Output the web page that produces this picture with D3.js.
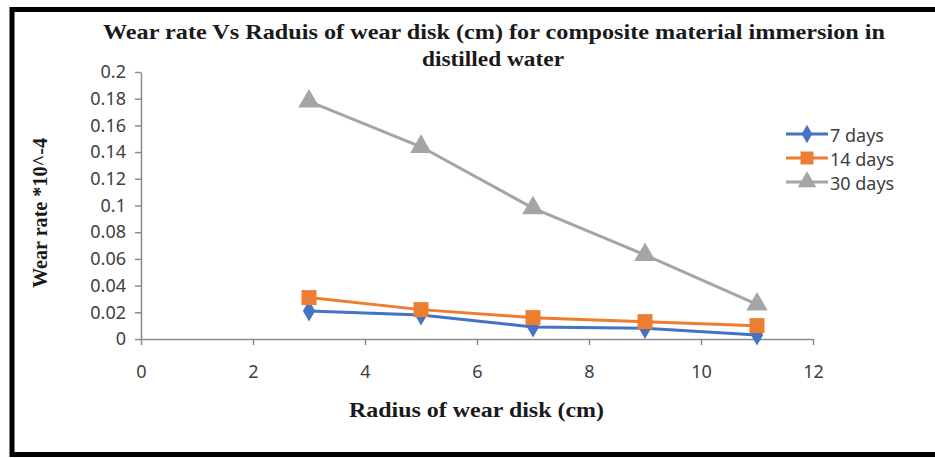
<!DOCTYPE html>
<html>
<head>
<meta charset="utf-8">
<script src="https://cdn.jsdelivr.net/npm/d3@7"></script>
<style>
  body { margin: 0; background: #fff; }
  svg { display: block; }
</style>
</head>
<body>
<div id="chart"></div>
<script>
// data
const radius = [3, 5, 7, 9, 11];
const days7 = [0.021, 0.018, 0.009, 0.008, 0.003];
const days14 = [0.031, 0.022, 0.016, 0.013, 0.010];
const days30 = [0.178, 0.144, 0.098, 0.063, 0.026];
const seriesNames = ['7 days', '14 days', '30 days'];
const xTicks = [0, 2, 4, 6, 8, 10, 12];
const yTicks = [0, 0.02, 0.04, 0.06, 0.08, 0.1, 0.12, 0.14, 0.16, 0.18, 0.2];

const config = {
  width: 935,
  height: 458,
  plot: { left: 141, right: 813, top: 72, bottom: 339 },
  colors: ['#4472C4', '#ED7D31', '#A5A5A5'],
  axisColor: '#8c8c8c',
  tickFont: '"Noto Sans", sans-serif',
  titleFont: '"Liberation Serif", serif',
};

const series = [days7, days14, days30].map((vals, i) => ({
  name: seriesNames[i],
  color: config.colors[i],
  points: radius.map((r, j) => ({ x: r, y: vals[j] })),
}));

const svg = d3.select('#chart').append('svg')
  .attr('width', config.width)
  .attr('height', config.height);

// frame
svg.append('path')
  .attr('d', `M${config.width},9.5 H12 V454.5 H${config.width}`)
  .attr('fill', 'none')
  .attr('stroke', '#000')
  .attr('stroke-width', 5);

const x = d3.scaleLinear().domain([0, 12]).range([config.plot.left, config.plot.right]);
const y = d3.scaleLinear().domain([0, 0.2]).range([config.plot.bottom, config.plot.top]);

// x axis
const xAxis = svg.append('g')
  .attr('transform', `translate(0,${config.plot.bottom})`)
  .call(d3.axisBottom(x).tickValues(xTicks).tickSize(6).tickPadding(20).tickSizeOuter(0));

// y axis
const yAxis = svg.append('g')
  .attr('transform', `translate(${config.plot.left},0)`)
  .call(d3.axisLeft(y).tickValues(yTicks).tickSize(6).tickPadding(9).tickSizeOuter(0)
    .tickFormat(d => String(+d.toFixed(2))));

[xAxis, yAxis].forEach(a => {
  a.select('.domain').attr('stroke', config.axisColor).attr('stroke-width', 1.5);
  a.selectAll('.tick line').attr('stroke', config.axisColor).attr('stroke-width', 1.5);
  a.selectAll('.tick text')
    .attr('fill', '#404040')
    .attr('font-family', config.tickFont)
    .attr('font-size', 18);
});

// lines
const line = d3.line().x(d => x(d.x)).y(d => y(d.y));

const groups = svg.selectAll('.series')
  .data(series)
  .enter()
  .append('g')
  .attr('class', 'series');

groups.append('path')
  .attr('d', d => line(d.points))
  .attr('fill', 'none')
  .attr('stroke', d => d.color)
  .attr('stroke-width', 3);

const symbols = [d3.symbolDiamond, d3.symbolSquare, d3.symbolTriangle];
const symbolSize = [130, 225, 200];

groups.each(function (d, i) {
  d3.select(this).selectAll('path.marker')
    .data(d.points)
    .enter()
    .append('path')
    .attr('class', 'marker')
    .attr('d', d3.symbol().type(symbols[i]).size(symbolSize[i]))
    .attr('transform', p => `translate(${x(p.x)},${y(p.y)})`)
    .attr('fill', d.color);
});

// legend
const legend = svg.selectAll('.legend')
  .data(series)
  .enter()
  .append('g')
  .attr('class', 'legend')
  .attr('transform', (d, i) => `translate(786,${134 + i * 24})`);

legend.append('line')
  .attr('x1', 0).attr('x2', 42)
  .attr('stroke', d => d.color)
  .attr('stroke-width', 3);

legend.append('path')
  .attr('d', (d, i) => d3.symbol().type(symbols[i]).size(symbolSize[i] * 0.75)())
  .attr('transform', 'translate(21,0)')
  .attr('fill', d => d.color);

legend.append('text')
  .text(d => d.name)
  .attr('x', 44)
  .attr('y', 1)
  .attr('dominant-baseline', 'central')
  .attr('fill', '#404040')
  .attr('font-family', config.tickFont)
  .attr('font-size', 18);

// titles
const titleText = (sel, len) => sel
  .attr('font-family', config.titleFont)
  .attr('font-weight', 'bold')
  .attr('font-size', 22)
  .attr('fill', '#1a1a1a')
  .attr('textLength', len)
  .attr('lengthAdjust', 'spacingAndGlyphs');

svg.append('text')
  .text('Wear rate Vs Raduis of wear disk (cm)  for composite material immersion in')
  .attr('x', 103).attr('y', 39)
  .call(titleText, 782);

svg.append('text')
  .text('distilled water')
  .attr('x', 422).attr('y', 66)
  .call(titleText, 142);

svg.append('text')
  .text('Radius of wear disk (cm)')
  .attr('x', 349)
  .attr('y', 417)
  .call(titleText, 255);

svg.append('text')
  .text('Wear rate *10^-4')
  .attr('transform', 'translate(47,288) rotate(-90)')
  .call(titleText, 150);
</script>
</body>
</html>
